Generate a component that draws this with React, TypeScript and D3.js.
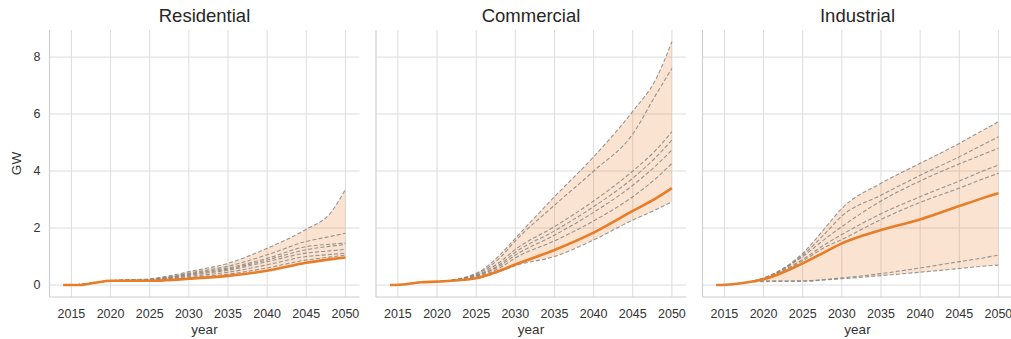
import React from 'react';
import * as d3 from 'd3';

// years sampled for every series
const years = [2014, 2016, 2018, 2020, 2025, 2028, 2030, 2035, 2040, 2045, 2048, 2050];

const xTicks = [2015, 2020, 2025, 2030, 2035, 2040, 2045, 2050];
const yTicks = [0, 2, 4, 6, 8];

const titles = ['Residential', 'Commercial', 'Industrial'];

// GW, central scenario (orange)
const residentialCentral = [0, 0, 0.08, 0.15, 0.15, 0.18, 0.22, 0.32, 0.5, 0.78, 0.9, 0.97];
const commercialCentral = [0, 0.03, 0.1, 0.12, 0.24, 0.5, 0.72, 1.23, 1.84, 2.6, 3.05, 3.4];
const industrialCentral = [0, 0.03, 0.1, 0.2, 0.76, 1.18, 1.46, 1.93, 2.3, 2.77, 3.05, 3.22];

// GW, other scenarios (grey dashed)
const residentialScenarios = [
  [0, 0.02, 0.08, 0.15, 0.22, 0.35, 0.47, 0.76, 1.29, 1.96, 2.5, 3.35],
  [0, 0.02, 0.08, 0.15, 0.2, 0.31, 0.42, 0.66, 1.06, 1.53, 1.7, 1.82],
  [0, 0.02, 0.08, 0.15, 0.19, 0.29, 0.39, 0.6, 0.94, 1.35, 1.43, 1.47],
  [0, 0.02, 0.08, 0.15, 0.19, 0.28, 0.37, 0.56, 0.88, 1.24, 1.36, 1.42],
  [0, 0.02, 0.08, 0.15, 0.18, 0.26, 0.34, 0.52, 0.82, 1.12, 1.2, 1.25],
  [0, 0.02, 0.08, 0.15, 0.17, 0.24, 0.3, 0.45, 0.71, 1.0, 1.07, 1.12],
  [0, 0.02, 0.08, 0.15, 0.16, 0.21, 0.26, 0.38, 0.6, 0.88, 0.98, 1.05],
];

const commercialScenarios = [
  [0, 0.03, 0.1, 0.12, 0.41, 1.05, 1.64, 3.1, 4.5, 6.1, 7.25, 8.54],
  [0, 0.03, 0.1, 0.12, 0.38, 0.95, 1.55, 2.8, 4.0, 5.3, 6.7, 7.6],
  [0, 0.03, 0.1, 0.12, 0.35, 0.8, 1.25, 2.05, 2.95, 4.0, 4.75, 5.38],
  [0, 0.03, 0.1, 0.12, 0.33, 0.72, 1.15, 1.9, 2.75, 3.75, 4.5, 5.09],
  [0, 0.03, 0.1, 0.12, 0.31, 0.67, 1.05, 1.75, 2.55, 3.5, 4.2, 4.74],
  [0, 0.03, 0.1, 0.12, 0.29, 0.6, 0.95, 1.55, 2.25, 3.1, 3.75, 4.27],
  [0, 0.03, 0.1, 0.12, 0.23, 0.47, 0.68, 1.0, 1.58, 2.28, 2.65, 2.92],
];

const industrialScenarios = [
  [0, 0.03, 0.1, 0.25, 1.11, 2.05, 2.69, 3.57, 4.27, 4.97, 5.43, 5.73],
  [0, 0.03, 0.1, 0.24, 1.05, 1.85, 2.42, 3.15, 3.85, 4.5, 4.92, 5.2],
  [0, 0.03, 0.1, 0.23, 1.0, 1.65, 2.05, 2.95, 3.65, 4.25, 4.58, 4.8],
  [0, 0.03, 0.1, 0.22, 0.9, 1.45, 1.77, 2.5, 3.1, 3.65, 4.0, 4.21],
  [0, 0.03, 0.1, 0.22, 0.85, 1.35, 1.6, 2.3, 2.9, 3.4, 3.72, 3.92],
  [0, 0.03, 0.1, 0.15, 0.15, 0.2, 0.25, 0.4, 0.6, 0.82, 0.95, 1.05],
  [0, 0.03, 0.1, 0.12, 0.13, 0.18, 0.22, 0.33, 0.45, 0.58, 0.66, 0.7],
];

const centrals = [residentialCentral, commercialCentral, industrialCentral];
const scenarios = [residentialScenarios, commercialScenarios, industrialScenarios];

const font = '"Liberation Sans", Arial, sans-serif';

export default function App() {
  const width = 1011;
  const height = 339;
  const top = 30;
  const bottom = 297;
  const panelW = 310;
  const lefts = [49.5, 376, 702.5];

  const y = d3.scaleLinear().domain([-0.42, 8.95]).range([bottom, top]);

  return (
    <svg width={width} height={height} style={{ position: 'absolute', left: 0, top: 0, background: '#fff' }}>
      {titles.map((title, i) => {
        const x = d3.scaleLinear().domain([2012.2, 2051.8]).range([lefts[i], lefts[i] + panelW]);
        const all = [centrals[i], ...scenarios[i]];
        const band = years.map((yr, k) => ({
          yr,
          lo: d3.min(all, s => s[k]) as number,
          hi: d3.max(all, s => s[k]) as number,
        }));
        const area = d3.area<{ yr: number; lo: number; hi: number }>()
          .x(d => x(d.yr))
          .y0(d => y(d.lo))
          .y1(d => y(d.hi))
          .curve(d3.curveMonotoneX);
        const line = d3.line<number>()
          .x((_, k) => x(years[k]))
          .y(v => y(v))
          .curve(d3.curveMonotoneX);
        const left = lefts[i];
        const right = left + panelW;
        return (
          <g key={title}>
            {/* grid */}
            {yTicks.map(t => (
              <line key={'h' + t} x1={left} x2={right} y1={y(t)} y2={y(t)} stroke="#dcdcdc" strokeWidth={1} />
            ))}
            {xTicks.map(t => (
              <line key={'v' + t} x1={x(t)} x2={x(t)} y1={top} y2={bottom} stroke="#dcdcdc" strokeWidth={1} />
            ))}
            {/* spines */}
            <line x1={left} x2={left} y1={top} y2={bottom} stroke="#cccccc" strokeWidth={1.1} />
            <line x1={left} x2={right} y1={bottom} y2={bottom} stroke="#cccccc" strokeWidth={1.1} />

            <path d={area(band) as string} fill="#e88028" fillOpacity={0.22} />
            {scenarios[i].map((s, j) => (
              <path key={j} d={line(s) as string} fill="none" stroke="#858585" strokeOpacity={0.85}
                strokeWidth={1.1} strokeDasharray="4,2.2" />
            ))}
            <path d={line(centrals[i]) as string} fill="none" stroke="#e87d28" strokeWidth={2.6} />

            {xTicks.map(t => (
              <text key={'xt' + t} x={x(t)} y={318} textAnchor="middle" fontFamily={font} fontSize={12.5} fill="#333">
                {t}
              </text>
            ))}
            <text x={(left + right) / 2} y={334} textAnchor="middle" fontFamily={font} fontSize={13.5} fill="#333">
              year
            </text>
            <text x={(left + right) / 2} y={22} textAnchor="middle" fontFamily={font} fontSize={18.5} fill="#262626">
              {title}
            </text>
            {i === 0 && yTicks.map(t => (
              <text key={'yt' + t} x={left - 9} y={y(t)} dy="0.35em" textAnchor="end" fontFamily={font} fontSize={12.5} fill="#333">
                {t}
              </text>
            ))}
          </g>
        );
      })}
      <text transform={`translate(21,${(top + bottom) / 2}) rotate(-90)`} textAnchor="middle" fontFamily={font} fontSize={13.5} fill="#333">
        GW
      </text>
    </svg>
  );
}
